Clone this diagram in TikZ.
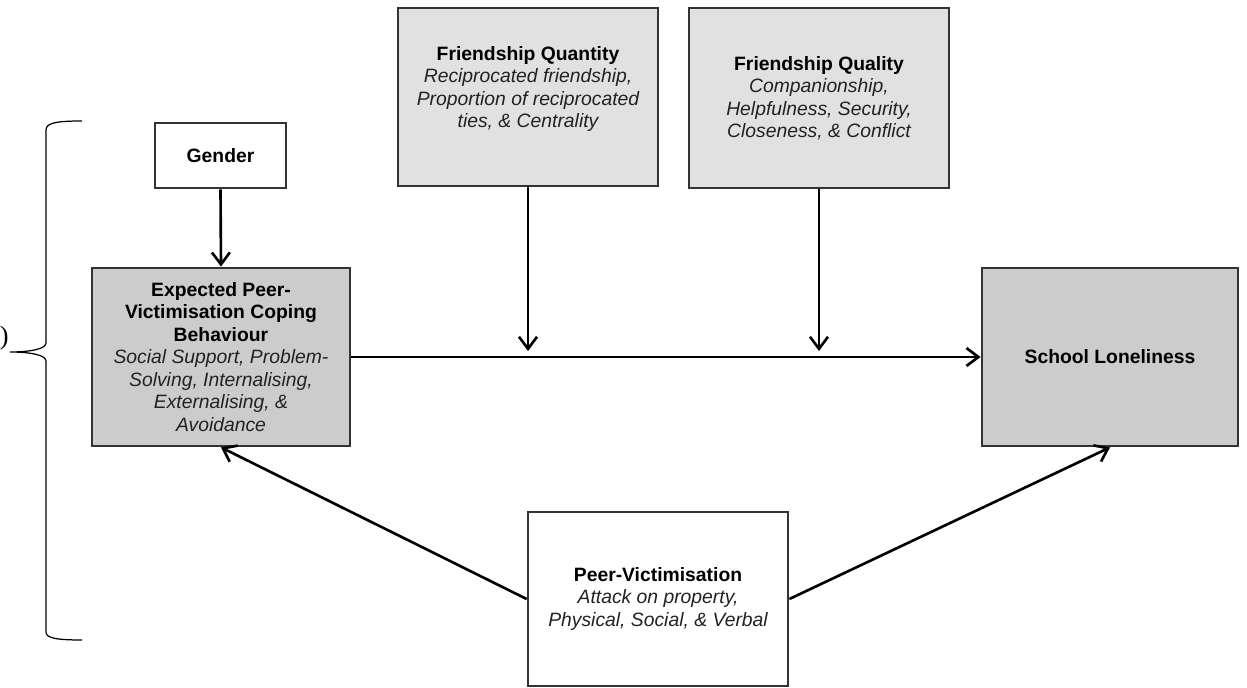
\documentclass[tikz,border=0pt]{standalone}
\usepackage{fontspec}
\setmainfont{Liberation Sans}
\newfontfamily\serifface{Liberation Serif}
\usetikzlibrary{arrows.meta}

\definecolor{boxline}{HTML}{333333}
\definecolor{darkfill}{HTML}{CCCCCC}
\definecolor{lightfill}{HTML}{E1E1E1}
\definecolor{subtext}{HTML}{222222}

\tikzset{
  box/.style={draw=boxline, line width=1.6pt, rectangle, align=center,
    font=\fontsize{11}{12.8}\selectfont, inner sep=4pt},
  darkbox/.style={box, fill=darkfill},
  lightbox/.style={box, fill=lightfill},
  plainbox/.style={box, fill=white},
  boxtext/.style={align=center, font=\fontsize{11}{12.8}\selectfont, inner sep=0pt},
  link/.style={line width=1.5pt, -{Straight Barb[length=2.4mm, width=3.6mm, line width=1.5pt]}},
}
\newcommand{\sub}[1]{{\itshape\color{subtext}#1}}

\begin{document}
\begin{tikzpicture}[x=0.02cm, y=-0.02cm]
  \useasboundingbox (0,0) rectangle (1247,688);

  % boxes
  \node[plainbox, minimum width=2.62cm, minimum height=1.30cm] (gender) at (220.5,155.5) {\textbf{Gender}};
  \node[darkbox, minimum width=5.16cm, minimum height=3.56cm] (coping) at (221,357)
    {\textbf{Expected Peer-}\\\textbf{Victimisation Coping}\\\textbf{Behaviour}\\
     \sub{Social Support, Problem-}\\\sub{Solving, Internalising,}\\\sub{Externalising, \&}\\\sub{Avoidance}};
  \node[lightbox, minimum width=5.2cm, minimum height=3.56cm] (quantity) at (528,97) {};
  \node[boxtext] (quantitytext) at (528,89)
    {\textbf{Friendship Quantity}\\\sub{Reciprocated friendship,}\\\sub{Proportion of reciprocated}\\\sub{ties, \& Centrality}};
  \node[lightbox, minimum width=5.2cm, minimum height=3.6cm] (quality) at (819,98)
    {\textbf{Friendship Quality}\\\sub{Companionship,}\\\sub{Helpfulness, Security,}\\\sub{Closeness, \& Conflict}};
  \node[darkbox, minimum width=5.12cm, minimum height=3.56cm] (lonely) at (1110,357) {\textbf{School Loneliness}};
  \node[plainbox, minimum width=5.2cm, minimum height=3.48cm] (victim) at (658,599)
    {\textbf{Peer-Victimisation}\\\sub{Attack on property,}\\\sub{Physical, Social, \& Verbal}};

  % points where the moderator arrows meet the main path
  \coordinate (mod1) at (528,351);
  \coordinate (mod2) at (819,351);

  % connectors
  \draw[link] (gender.south) -- (coping.north);
  \draw[link] (coping.east) -- (lonely.west);
  \draw[link] (quantity.south) -- (mod1);
  \draw[link] (quality.south) -- (mod2);
  \draw[link] (victim.west) -- (coping.south);
  \draw[link] (victim.east) -- (lonely.south);

  % curly brace on the left
  \draw[line width=0.7pt] (82,121) .. controls (56,121) and (46,123) .. (46,130)
    -- (46,343) .. controls (46,349) and (30,352) .. (10,352)
    .. controls (30,352) and (46,355) .. (46,361)
    -- (46,632) .. controls (46,638) and (56,640) .. (82,640);

  \node[font=\serifface\fontsize{15}{15}\selectfont, anchor=east, inner sep=0pt] (paren) at (9,338) {)};
\end{tikzpicture}
\end{document}
